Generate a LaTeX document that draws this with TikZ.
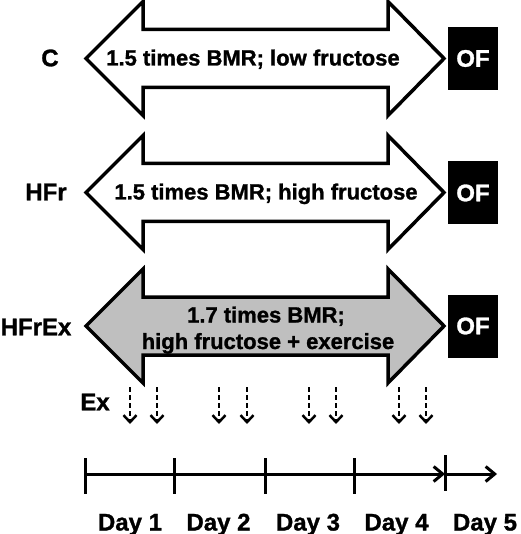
\documentclass[tikz,border=0pt]{standalone}
\usepackage{fontspec}
\setmainfont{Liberation Sans}[BoldFeatures={FakeBold=1.2}]
\usetikzlibrary{arrows.meta}
\begin{document}
\begin{tikzpicture}[x=1pt,y=-1pt,
  lab/.style={inner sep=0pt, font=\fontsize{24}{28}\selectfont\bfseries},
  atext/.style={inner sep=0pt, anchor=base, font=\fontsize{22}{26}\selectfont\bfseries},
  bigarrow/.style={draw=black, line width=3.5pt, line join=miter},
  ofbox/.style={fill=black, text=white, minimum width=50pt, minimum height=63pt, inner sep=0pt, font=\fontsize{24}{28}\selectfont\bfseries},
  exarrow/.style={line width=2.5pt, dash pattern=on 5pt off 3pt, -{Straight Barb[length=7pt,width=13pt]}},
  timeaxis/.style={line width=3pt, -{Straight Barb[length=9pt,width=15pt]}},
  daytick/.style={line width=3pt},
]
\fill[white] (0,0) rectangle (520,534);
\useasboundingbox (0,0) rectangle (520,534);

% double arrows
\foreach \cy/\fc in {58.5/white,192.5/white,326/black!25}{
  \draw[bigarrow, fill=\fc] (86,\cy) -- (143,\cy-57) -- (143,\cy-29) -- (388,\cy-29) -- (388,\cy-57)
    -- (444,\cy) -- (388,\cy+57) -- (388,\cy+29) -- (143,\cy+29) -- (143,\cy+57) -- cycle;
}

% arrow texts
\node[atext] (t1) at (253,65.5) {1.5 times BMR; low fructose};
\node[atext] (t2) at (266,199.5) {1.5 times BMR; high fructose};
\node[atext] (t3a) at (266,322.5) {1.7 times BMR;};
\node[atext] (t3b) at (268,349) {high fructose + exercise};

% group labels
\node[lab] (lC) at (50,58) {C};
\node[lab] (lHFr) at (46,192) {HFr};
\node[lab] (lHFrEx) at (36,327) {HFrEx};
\node[lab] (lEx) at (95,402) {Ex};

% OF boxes
\node[ofbox] (of1) at (473,58.5) {OF};
\node[ofbox] (of2) at (473,193) {OF};
\node[ofbox] (of3) at (473,326) {OF};

% exercise arrows
\foreach \x [count=\i] in {130,157,219,247,309,336,399,426}{
  \coordinate (es\i) at (\x,387);
  \coordinate (ee\i) at (\x,424);
  \draw[exarrow] (es\i) -- (ee\i);
}

% time axis
\coordinate (d0) at (85,474);
\coordinate (d1) at (174,474);
\coordinate (d2) at (265,474);
\coordinate (d3) at (354,474);
\coordinate (d4) at (445,474);
\coordinate (dend) at (497,474);
\foreach \i in {0,1,2,3}{
  \draw[daytick] ([yshift=16pt]d\i) -- ([yshift=-20pt]d\i);
}
\draw[daytick] ([yshift=19pt]d4) -- ([yshift=-17pt]d4);
\draw[timeaxis] (d0) -- (d4);
\draw[timeaxis] (d4) -- (dend);

% day labels
\node[lab, anchor=base] (day1) at (130,530.5) {Day 1};
\node[lab, anchor=base] (day2) at (218.5,530.5) {Day 2};
\node[lab, anchor=base] (day3) at (308,530.5) {Day 3};
\node[lab, anchor=base] (day4) at (396.5,530.5) {Day 4};
\node[lab, anchor=base] (day5) at (485,530.5) {Day 5};
\end{tikzpicture}
\end{document}
